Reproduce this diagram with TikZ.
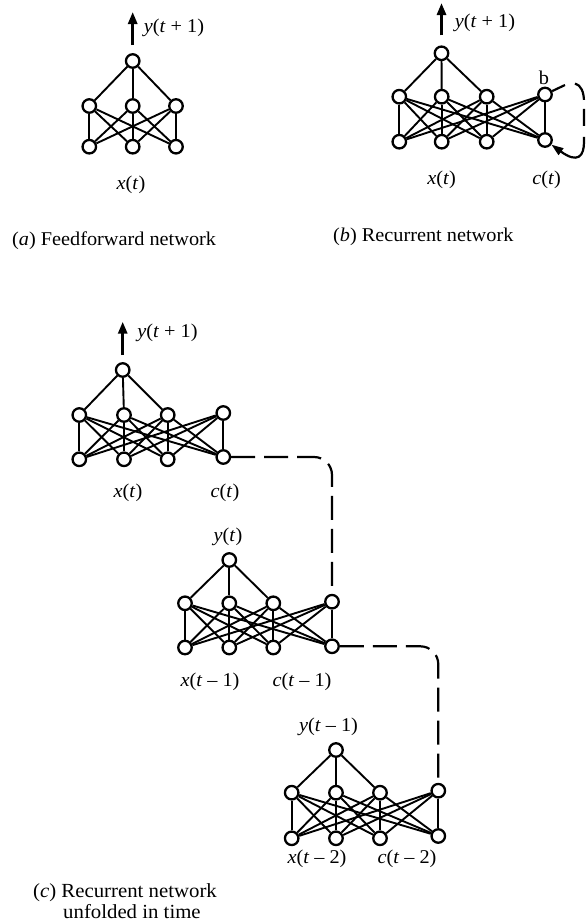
\documentclass[tikz,border=0pt]{standalone}
\usepackage{fontspec}
\setmainfont{Liberation Serif}[FakeStretch=1.04]
\usetikzlibrary{arrows.meta}
\begin{document}
\begin{tikzpicture}[x=1pt,y=-1pt,
  neuron/.style={circle,draw,line width=2.3pt,minimum size=13.5pt,inner sep=0pt},
  link/.style={line width=1.9pt},
  outarrow/.style={line width=2.8pt,-{Triangle[length=12pt,width=9pt]}},
  lbl/.style={font=\fontsize{19.5}{22}\selectfont, inner sep=0pt},
  captxt/.style={font=\fontsize{19.5}{21}\selectfont, inner sep=0pt},
  feedback/.style={line width=2.2pt, dash pattern=on 24pt off 9pt, rounded corners=18pt},
  loopline/.style={line width=2.2pt, dash pattern=on 20pt off 9pt on 17pt off 11pt on 200pt, -{Triangle[length=12pt,width=8pt]}}
]
\useasboundingbox (0,0) rectangle (586,924);

% ---------------- (a) feedforward ----------------
\node[neuron] (a-o) at (132.7,61) {};
\foreach \i/\x in {1/89.3,2/132.7,3/176}{
  \node[neuron] (a-h\i) at (\x,106) {};
  \node[neuron] (a-x\i) at (\x,146.7) {};
}
\foreach \i in {1,2,3}{
  \draw[link] (a-o) -- (a-h\i);
  \foreach \j in {1,2,3} \draw[link] (a-h\i) -- (a-x\j);
}
\coordinate (a-tip) at (132.7,12);
\draw[outarrow, shorten <=8pt] (a-o) -- (a-tip);
\node[lbl] (a-ylbl) at (174,28) {\textit{y}(\textit{t} + 1)};
\node[lbl] (a-xlbl) at (131,185) {\textit{x}(\textit{t})};
\node[captxt, anchor=west] (a-cap) at (12,241) {(\textit{a}) Feedforward network};

% ---------------- (b) recurrent ----------------
\node[neuron] (b-o) at (441.5,53.3) {};
\foreach \i/\x/\yh/\yx in {1/399.3/96.7/141.7, 2/441.7/96.7/141.7, 3/486.7/96.7/141.7, 4/545/94.5/140}{
  \node[neuron] (b-h\i) at (\x,\yh) {};
  \node[neuron] (b-x\i) at (\x,\yx) {};
}
\foreach \i in {1,2,3} \draw[link] (b-o) -- (b-h\i);
\foreach \i in {1,...,4}{
  \foreach \j in {1,...,4} \draw[link] (b-h\i) -- (b-x\j);
}
\coordinate (b-tip) at (441.5,3);
\draw[outarrow, shorten <=10pt] (b-o) -- (b-tip);
\node[lbl] (b-ylbl) at (485,23) {\textit{y}(\textit{t} + 1)};
\node[lbl] (b-blbl) at (544,78) {b};
\coordinate (b-r) at (565,85);
\coordinate (b-s) at (575,83.5);
\draw[link, line width=2.2pt] (b-h4) -- (b-r);
\draw[loopline] (b-s) .. controls (581,85) and (584,92) .. (584,102) -- (584,142)
   .. controls (584,156) and (578,164) .. (b-x4);
\node[lbl] (b-xlbl) at (441.7,180) {\textit{x}(\textit{t})};
\node[lbl] (b-clbl) at (546.7,180) {\textit{c}(\textit{t})};
\node[captxt, anchor=west] (b-cap) at (333,237) {(\textit{b}) Recurrent network};

% ---------------- (c) unfolded: top ----------------
\node[neuron] (c1-o) at (122.7,370) {};
\foreach \i/\x/\yh/\yx in {1/79.3/415/459.3, 2/124/415/459.3, 3/167.7/415/459.3, 4/223.3/413/457}{
  \node[neuron] (c1-h\i) at (\x,\yh) {};
  \node[neuron] (c1-x\i) at (\x,\yx) {};
}
\foreach \i in {1,2,3} \draw[link] (c1-o) -- (c1-h\i);
\foreach \i in {1,...,4}{
  \foreach \j in {1,...,4} \draw[link] (c1-h\i) -- (c1-x\j);
}
\coordinate (c1-tip) at (122.7,321.7);
\draw[outarrow, shorten <=7pt] (c1-o) -- (c1-tip);
\node[lbl] (c1-ylbl) at (167.5,333) {\textit{y}(\textit{t} + 1)};
\node[lbl] (c1-xlbl) at (128,493) {\textit{x}(\textit{t})};
\node[lbl] (c1-clbl) at (225,493) {\textit{c}(\textit{t})};

% ---------------- middle ----------------
\node[neuron] (c2-o) at (229.3,560) {};
\foreach \i/\x/\yh/\yx in {1/185/603.3/647.5, 2/229.3/603.3/647.5, 3/273.3/603.3/647.5, 4/332/601.7/646.3}{
  \node[neuron] (c2-h\i) at (\x,\yh) {};
  \node[neuron] (c2-x\i) at (\x,\yx) {};
}
\foreach \i in {1,2,3} \draw[link] (c2-o) -- (c2-h\i);
\foreach \i in {1,...,4}{
  \foreach \j in {1,...,4} \draw[link] (c2-h\i) -- (c2-x\j);
}
\node[lbl] (c2-ylbl) at (228,537) {\textit{y}(\textit{t})};
\node[lbl] (c2-xlbl) at (210,682) {\textit{x}(\textit{t} – 1)};
\node[lbl] (c2-clbl) at (302,682) {\textit{c}(\textit{t} – 1)};

% ---------------- bottom ----------------
\node[neuron] (c3-o) at (336,750) {};
\foreach \i/\x/\yh/\yx in {1/291.7/792.7/838.3, 2/336/792.7/838.3, 3/380/792.7/838.3, 4/438.3/790.7/836}{
  \node[neuron] (c3-h\i) at (\x,\yh) {};
  \node[neuron] (c3-x\i) at (\x,\yx) {};
}
\foreach \i in {1,2,3} \draw[link] (c3-o) -- (c3-h\i);
\foreach \i in {1,...,4}{
  \foreach \j in {1,...,4} \draw[link] (c3-h\i) -- (c3-x\j);
}
\node[lbl] (c3-ylbl) at (328.5,727) {\textit{y}(\textit{t} – 1)};
\node[lbl] (c3-xlbl) at (317,859) {\textit{x}(\textit{t} – 2)};
\node[lbl] (c3-clbl) at (407,859) {\textit{c}(\textit{t} – 2)};

% ---------------- unfolding connections ----------------
\coordinate (k1) at (332,457);
\coordinate (k2) at (438.3,646.3);
\draw[feedback] (c1-x4) -- (k1) -- (c2-h4);
\draw[feedback] (c2-x4) -- (k2) -- (c3-h4);

\node[captxt, font=\fontsize{20}{21}\selectfont, anchor=north west, align=left] (c-cap) at (33,883)
  {(\textit{c}) Recurrent network\\\hspace*{30pt}unfolded in time};
\end{tikzpicture}
\end{document}
